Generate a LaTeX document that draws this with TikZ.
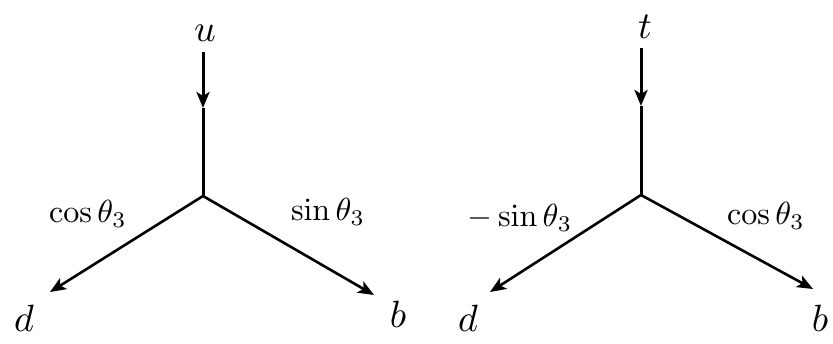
\documentclass[tikz,border=0pt]{standalone}
\usepackage{graphicx}
\usetikzlibrary{arrows.meta}
\newcommand\MyLbl[1]{\scalebox{3.8}{$#1$}}
\newcommand\MyCoef[1]{\scalebox{3.2}{$#1$}}
\begin{document}
\begin{tikzpicture}[x=1pt,y=-1pt,
  tip/.style={-{Stealth[length=16pt,width=13pt,inset=4pt]}},
  leg/.style={line width=2.6pt,tip},
  stem/.style={line width=3pt},
  lbl/.style={inner sep=0pt},
  coef/.style={inner sep=0pt}]
\useasboundingbox (0,0) rectangle (833,343);
% left vertex
\coordinate (lt) at (203,52);
\coordinate (lm) at (203,108);
\coordinate (lv) at (203,196);
\coordinate (ld) at (50,292);
\coordinate (lb) at (374,295);
\node[lbl] (lu) at (205,33) {\MyLbl{u}};
\node[lbl] (ldl) at (24,318) {\MyLbl{d}};
\node[lbl] (lbl1) at (398,314) {\MyLbl{b}};
\node[coef] (lc) at (88,214) {\MyCoef{\cos\theta_3}};
\node[coef] (ls) at (328,212) {\MyCoef{\sin\theta_3}};
\draw[stem,tip] (lt) -- (lm);
\draw[stem] (lm) -- (lv);
\draw[leg] (lv) -- (ld);
\draw[leg] (lv) -- (lb);
% right vertex
\coordinate (rt) at (641,48);
\coordinate (rm) at (641,106);
\coordinate (rv) at (641,195);
\coordinate (rd) at (490,292);
\coordinate (rb) at (813,289);
\node[lbl] (rtl) at (645,27) {\MyLbl{t}};
\node[lbl] (rdl) at (468,318) {\MyLbl{d}};
\node[lbl] (rbl) at (820,318) {\MyLbl{b}};
\node[coef] (rs) at (520,218) {\MyCoef{-\sin\theta_3}};
\node[coef] (rc) at (766,216) {\MyCoef{\cos\theta_3}};
\draw[stem,tip] (rt) -- (rm);
\draw[stem] (rm) -- (rv);
\draw[leg] (rv) -- (rd);
\draw[leg] (rv) -- (rb);
\end{tikzpicture}
\end{document}
